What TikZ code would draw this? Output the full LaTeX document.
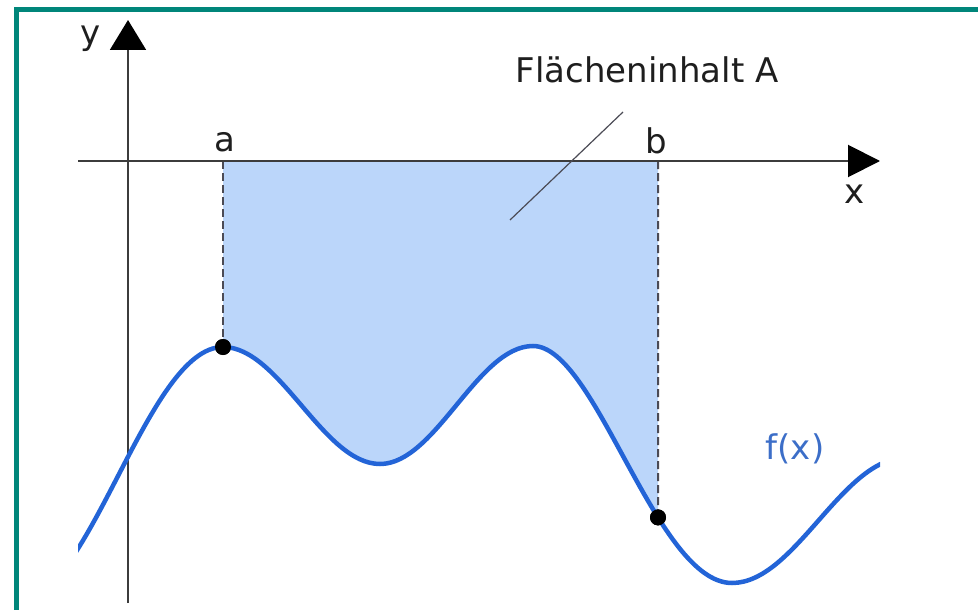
\documentclass[tikz,border=0pt]{standalone}
\usepackage{fontspec}
\setmainfont{DejaVu Sans}
\usetikzlibrary{arrows.meta,intersections}
\definecolor{frameteal}{RGB}{0,134,122}
\definecolor{curveblue}{RGB}{35,100,215}
\definecolor{labelblue}{RGB}{60,110,200}
\definecolor{areablue}{RGB}{187,214,250}
\definecolor{axisgray}{RGB}{60,60,60}
\definecolor{dashgray}{RGB}{75,75,85}
\definecolor{textgray}{RGB}{30,30,30}
\begin{document}
\begin{tikzpicture}[x=1pt,y=-1pt,
  lbl/.style={font=\fontsize{34}{40}\selectfont, text=textgray, inner sep=0pt, anchor=base},
  axisline/.style={line width=2pt, draw=axisgray},
  guide/.style={draw=dashgray, line width=2pt, dash pattern=on 8pt off 4pt},
  dotnode/.style={circle, fill=black, inner sep=0pt, minimum size=16pt}]
\useasboundingbox (0,0) rectangle (978,610);
\def\curvepath{(13,605) .. controls (89.3,605) and (146.7,347) .. (223,347)
  .. controls (280,347) and (323,464) .. (380,464)
  .. controls (435.6,464) and (477.4,346) .. (533,346)
  .. controls (596,346) and (656,583) .. (732,583)
  .. controls (795,583) and (842,458) .. (905,458)}
% frame
\draw[frameteal, line width=5pt] (16.5,9.5) rectangle (1000,640);
% area
\begin{scope}
  \clip (223,160) rectangle (658,620);
  \fill[areablue] \curvepath -- (905,160) -- (13,160) -- cycle;
\end{scope}
% curve path for intersections
\path[name path global=curve] \curvepath;
\path[name path global=vb] (658,150) -- (658,620);
\path[name intersections={of=curve and vb, by=ib}];
\node[dotnode] (pa) at (223,347) {};
\node[dotnode] (pb) at (ib) {};
\coordinate (xa) at (223,161);
\coordinate (xb) at (658,161);
\draw[guide] (xa) -- (pa.center);
\draw[guide] (xb) -- (pb.center);
% axes
\coordinate (xs) at (78,161);
\coordinate (xe) at (880,161);
\coordinate (ys) at (128,603);
\coordinate (ye) at (128,20);
\draw[axisline, -{Triangle[length=32pt,width=32pt,color=black]}] (xs) -- (xe);
\draw[axisline, -{Triangle[length=30pt,width=36pt,color=black]}] (ys) -- (ye);
% curve
\begin{scope}
  \clip (78,0) rectangle (880,610);
  \draw[curveblue, line width=4.5pt] \curvepath;
\end{scope}
\node[dotnode] at (pa) {};
\node[dotnode] at (pb) {};
% leader line
\coordinate (l1) at (510,220);
\coordinate (l2) at (623,112);
\draw[dashgray, line width=1.2pt] (l1) -- (l2);
% labels
\node[lbl] (ly) at (91,45) {y};
\node[lbl] (la) at (225,151) {a};
\node[lbl] (lb) at (656,153) {b};
\node[lbl] (lx) at (855,203) {x};
\node[lbl] (lA) at (647,82) {Flächeninhalt A};
\node[lbl, text=labelblue] (lf) at (795,459) {f(x)};
\end{tikzpicture}
\end{document}
